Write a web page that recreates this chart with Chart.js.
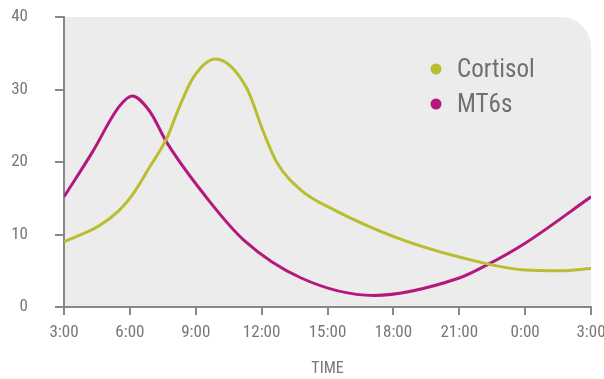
<!DOCTYPE html>
<html>
<head>
<meta charset="utf-8">
<script src="https://cdn.jsdelivr.net/npm/chart.js@4/dist/chart.umd.min.js"></script>
<style>
  html, body { margin: 0; padding: 0; background: #fff; }
  #wrap { width: 604px; height: 379px; }
</style>
</head>
<body>
<div id="wrap"><canvas id="myChart" width="604" height="379"></canvas></div>
<script>
const FONT = "'Liberation Sans Narrow', 'Roboto Condensed', 'Liberation Sans', sans-serif";

// hours since midnight (3 = 3:00, 27 = 3:00 next day)
const cortisolHours = [3, 4.6, 5.5, 6.1, 6.9, 7.7, 8.2, 8.9, 9.9, 11.3, 12.1, 12.7, 13.8, 15.3, 18.2, 21.0, 24.0, 25.6, 27];
const cortisolValues = [9.0, 11.2, 13.3, 15.4, 19.3, 23.4, 27.2, 31.7, 34.2, 30.3, 24.0, 19.9, 16.1, 13.4, 9.5, 6.9, 5.1, 5.0, 5.3];
const mt6sHours = [3, 4.3, 5.5, 6.1, 6.9, 7.7, 9.7, 11.2, 13.8, 17.1, 21.0, 22.2, 24.0, 27];
const mt6sValues = [15.2, 21.4, 27.6, 29.1, 27.0, 22.6, 14.3, 9.2, 4.0, 1.6, 4.0, 5.7, 8.8, 15.2];
const xTickLabels = ["3:00", "6:00", "9:00", "12:00", "15:00", "18:00", "21:00", "0:00", "3:00"];
const yTicks = [0, 10, 20, 30, 40];

const toPoints = (xs, ys) => xs.map((x, i) => ({ x: x, y: ys[i] }));

const bgPlugin = {
  id: 'bg',
  beforeDraw: (chart) => {
    const { ctx, chartArea: a } = chart;
    const r = 30;
    ctx.save();
    ctx.fillStyle = '#ececec';
    ctx.beginPath();
    ctx.moveTo(a.left, a.top);
    ctx.lineTo(a.right - r, a.top);
    ctx.arcTo(a.right, a.top, a.right, a.top + r, r);
    ctx.lineTo(a.right, a.bottom);
    ctx.lineTo(a.left, a.bottom);
    ctx.closePath();
    ctx.fill();
    ctx.restore();
  }
};

const legendPlugin = {
  id: 'insideLegend',
  afterDatasetsDraw: (chart) => {
    const { ctx } = chart;
    ctx.save();
    chart.data.datasets.forEach((ds, i) => {
      const y = 69 + i * 35;
      ctx.fillStyle = ds.borderColor;
      ctx.beginPath();
      ctx.arc(436, y, 5.5, 0, Math.PI * 2);
      ctx.fill();
      ctx.fillStyle = '#707070';
      ctx.font = '25px ' + FONT;
      ctx.textBaseline = 'middle';
      ctx.textAlign = 'left';
      ctx.fillText(ds.label, 457, y + 2);
    });
    ctx.restore();
  }
};

const data = {
  datasets: [
    {
      label: "Cortisol",
      data: toPoints(cortisolHours, cortisolValues),
      borderColor: "#b9bd30",
      borderWidth: 3,
      pointRadius: 0,
      cubicInterpolationMode: 'monotone',
    },
    {
      label: "MT6s",
      data: toPoints(mt6sHours, mt6sValues),
      borderColor: "#b5177f",
      borderWidth: 3,
      pointRadius: 0,
      cubicInterpolationMode: 'monotone',
    },
  ],
};

const config = {
  type: "line",
  data,
  plugins: [bgPlugin, legendPlugin],
  options: {
    responsive: false,
    animation: false,
    layout: { padding: { top: 17, right: 13, left: 0, bottom: 0 } },
    plugins: { legend: { display: false }, tooltip: { enabled: false } },
    scales: {
      x: {
        type: 'linear',
        min: 3,
        max: 27,
        afterBuildTicks: (s) => { s.ticks = xTickLabels.map((_, i) => ({ value: 3 + i * 3 })); },
        afterFit: (s) => { s.height = 72; s.paddingLeft = 0; s.paddingRight = 0; },
        grid: { drawOnChartArea: false, tickLength: 8, tickColor: '#888', lineWidth: 2 },
        border: { color: '#888', width: 2 },
        ticks: {
          color: '#777',
          font: { family: FONT, size: 17 },
          padding: 8,
          maxRotation: 0,
          autoSkip: false,
          callback: (v, i) => xTickLabels[i],
        },
        title: {
          display: true,
          text: 'TIME',
          color: '#777',
          font: { family: FONT, size: 16 },
          padding: { top: 0, bottom: 0 },
        },
      },
      y: {
        min: 0,
        max: 40,
        afterBuildTicks: (s) => { s.ticks = yTicks.map((v) => ({ value: v })); },
        afterFit: (s) => { s.width = 64; s.paddingTop = 0; s.paddingBottom = 0; },
        grid: { drawOnChartArea: false, tickLength: 9, tickColor: '#888', lineWidth: 2 },
        border: { color: '#888', width: 2 },
        ticks: {
          color: '#777',
          font: { family: FONT, size: 17 },
          padding: 27,
        },
      },
    },
  },
};
const myChart = new Chart(document.getElementById("myChart"), config);
</script>
</body>
</html>
